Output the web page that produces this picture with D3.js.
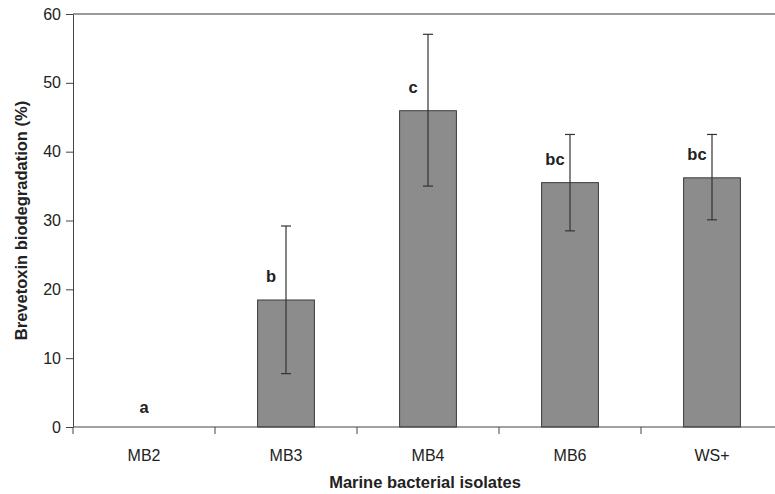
<!DOCTYPE html>
<html>
<head>
<meta charset="utf-8">
<script src="https://cdn.jsdelivr.net/npm/d3@7"></script>
<style>
  body { margin: 0; background: #fff; }
  svg { font-family: "Liberation Sans", Arial, sans-serif; }
  .axis path, .axis line { stroke: #444; }
  .axis text { font-size: 16px; fill: #222; }
</style>
</head>
<body>
<svg id="chart" width="775" height="494"></svg>
<script>
// isolates and mean degradation (%)
var isolates = ["MB2", "MB3", "MB4", "MB6", "WS+"];
var means = [0, 18.45, 45.95, 35.5, 36.2];
var errLow = [0, 7.75, 35.0, 28.5, 30.1];
var errHigh = [0, 29.2, 57.05, 42.5, 42.5];
var letters = ["a", "b", "c", "bc", "bc"];
var yTicks = [0, 10, 20, 30, 40, 50, 60];

var svg = d3.select("#chart");

// plot edges (note: "top" is reserved in the browser, so prefixed names)
var pLeft = 73, pRight = 783, pTop = 14, pBottom = 427;

var x = d3.scaleBand()
    .domain(isolates)
    .range([pLeft, pRight])
    .paddingInner(0.6)
    .paddingOuter(0.3);

var y = d3.scaleLinear()
    .domain([0, 60])
    .range([pBottom, pTop]);

var rows = isolates.map(function(d, i) {
    return { name: d, mean: means[i], lo: errLow[i], hi: errHigh[i], letter: letters[i] };
});

// top frame line
svg.append("line")
    .attr("x1", pLeft).attr("x2", pRight)
    .attr("y1", y(60)).attr("y2", y(60))
    .attr("stroke", "#777")
    .attr("stroke-width", 1.3);

// y axis
var yAxis = d3.axisLeft(y)
    .tickValues(yTicks)
    .tickSizeOuter(0)
    .tickSizeInner(7)
    .tickPadding(5);

svg.append("g")
    .attr("class", "axis")
    .attr("transform", "translate(" + pLeft + ",0)")
    .call(yAxis);

// bars
svg.append("g")
    .selectAll("rect")
    .data(rows.filter(function(d) { return d.mean > 0; }))
    .enter()
    .append("rect")
    .attr("x", function(d) { return x(d.name); })
    .attr("y", function(d) { return y(d.mean); })
    .attr("width", x.bandwidth())
    .attr("height", function(d) { return y(0) - y(d.mean); })
    .attr("fill", "#8c8c8c")
    .attr("stroke", "#3a3a3a")
    .attr("stroke-width", 1);

// error bars
var eb = svg.append("g")
    .selectAll("g")
    .data(rows.filter(function(d) { return d.hi > d.lo; }))
    .enter()
    .append("g")
    .attr("stroke", "#333")
    .attr("stroke-width", 1.2);

eb.append("line")
    .attr("x1", function(d) { return x(d.name) + x.bandwidth() / 2; })
    .attr("x2", function(d) { return x(d.name) + x.bandwidth() / 2; })
    .attr("y1", function(d) { return y(d.lo); })
    .attr("y2", function(d) { return y(d.hi); });

["lo", "hi"].forEach(function(k) {
    eb.append("line")
        .attr("x1", function(d) { return x(d.name) + x.bandwidth() / 2 - 5; })
        .attr("x2", function(d) { return x(d.name) + x.bandwidth() / 2 + 5; })
        .attr("y1", function(d) { return y(d[k]); })
        .attr("y2", function(d) { return y(d[k]); });
});

// significance letters
svg.append("g")
    .selectAll("text")
    .data(rows)
    .enter()
    .append("text")
    .attr("x", function(d) {
        var c = x(d.name) + x.bandwidth() / 2;
        return d.hi > d.lo ? c - 15 : c;
    })
    .attr("y", function(d) { return y(d.mean) - (d.mean > 0 ? 18 : 14); })
    .attr("text-anchor", "middle")
    .attr("font-size", "16.5px")
    .attr("font-weight", "bold")
    .attr("fill", "#222")
    .text(function(d) { return d.letter; });

// x axis: labels at centres, ticks at category boundaries
var xAxis = d3.axisBottom(x)
    .tickSize(0)
    .tickPadding(23);

var gx = svg.append("g")
    .attr("class", "axis")
    .attr("transform", "translate(0," + pBottom + ")")
    .call(xAxis);
gx.select(".domain").attr("d", "M" + pLeft + ",0H" + pRight);

gx.selectAll(".bound")
    .data(d3.range(isolates.length + 1))
    .enter()
    .append("line")
    .attr("class", "bound")
    .attr("x1", function(i) { return pLeft + i * x.step(); })
    .attr("x2", function(i) { return pLeft + i * x.step(); })
    .attr("y1", 0)
    .attr("y2", 7);

// axis titles
svg.append("text")
    .attr("x", (pLeft + pRight) / 2 - 3)
    .attr("y", 488)
    .attr("text-anchor", "middle")
    .attr("font-size", "16.5px")
    .attr("font-weight", "bold")
    .attr("fill", "#222")
    .text("Marine bacterial isolates");

svg.append("text")
    .attr("transform", "translate(27," + ((pTop + pBottom) / 2) + ") rotate(-90)")
    .attr("text-anchor", "middle")
    .attr("font-size", "16.5px")
    .attr("font-weight", "bold")
    .attr("fill", "#222")
    .text("Brevetoxin biodegradation (%)");
</script>
</body>
</html>
